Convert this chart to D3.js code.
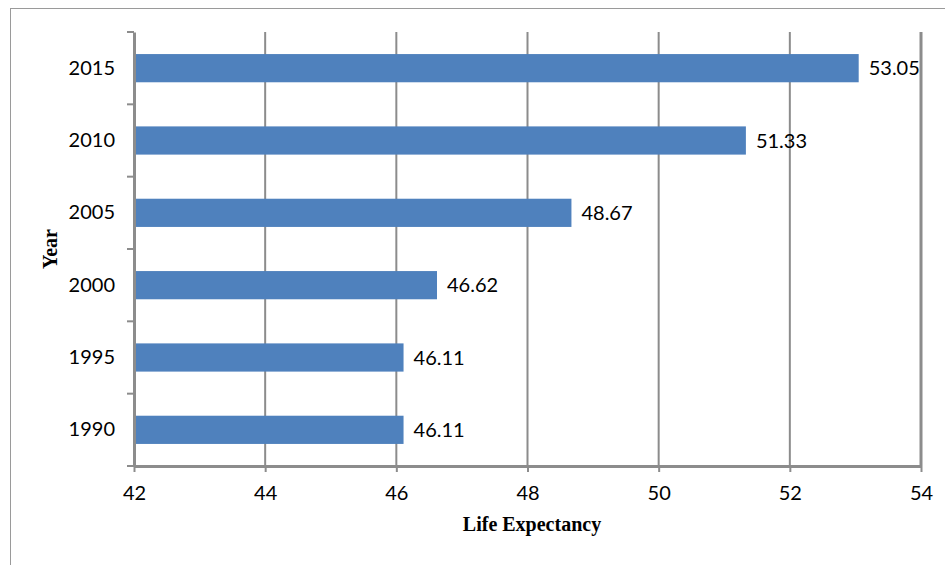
<!DOCTYPE html>
<html>
<head>
<meta charset="utf-8">
<script src="https://cdn.jsdelivr.net/npm/d3@7"></script>
<style>
    body { margin: 0; background: #fff; }
    svg { display: block; }
    .tick-label { font-family: Lato, "Open Sans", sans-serif; font-size: 20px; fill: #000; }
    .axis-title { font-family: "Liberation Serif", serif; font-size: 20px; font-weight: bold; fill: #000; }
    .bar-label { font-family: Lato, "Open Sans", sans-serif; font-size: 20px; fill: #000; }
</style>
</head>
<body>
<svg width="945" height="565"></svg>
<script>
// data
var years = ["1990", "1995", "2000", "2005", "2010", "2015"];
var lifeExp = [46.11, 46.11, 46.62, 48.67, 51.33, 53.05];
var xTicks = [42, 44, 46, 48, 50, 52, 54];

var svg = d3.select("svg");
var grey = "#8c8c8c";

var plotLeft = 134, plotRight = 921, plotTop = 32, plotBottom = 466;

// outer chart border (top and left visible)
svg.append("line")
    .attr("x1", 10).attr("x2", 945)
    .attr("y1", 8.5).attr("y2", 8.5)
    .attr("stroke", "#9a9a9a").attr("stroke-width", 1);
svg.append("line")
    .attr("x1", 10.5).attr("x2", 10.5)
    .attr("y1", 8).attr("y2", 565)
    .attr("stroke", "#9a9a9a").attr("stroke-width", 1);

var x = d3.scaleLinear().domain([42, 54]).range([plotLeft, plotRight]);
var cats = years.slice().reverse();
var y = d3.scaleBand().domain(cats).range([plotTop, plotBottom]).paddingInner(0.61).paddingOuter(0.305);
var yb = d3.scaleBand().domain(cats).range([plotTop, plotBottom]);

var g = svg.append("g");

// vertical gridlines
g.selectAll("line.grid")
    .data(xTicks.slice(1))
    .enter().append("line")
    .attr("class", "grid")
    .attr("x1", function(d) { return x(d); })
    .attr("x2", function(d) { return x(d); })
    .attr("y1", plotTop)
    .attr("y2", plotBottom)
    .attr("stroke", grey)
    .attr("stroke-width", function(d) { return d == 54 ? 3 : 2; });

// bars
g.selectAll("rect.bar")
    .data(years)
    .enter().append("rect")
    .attr("class", "bar")
    .attr("x", x(42))
    .attr("y", function(d) { return y(d); })
    .attr("width", function(d, i) { return x(lifeExp[i]) - x(42); })
    .attr("height", y.bandwidth())
    .attr("fill", "#4f81bd");

// value labels
g.selectAll("text.bar-label")
    .data(years)
    .enter().append("text")
    .attr("class", "bar-label")
    .attr("x", function(d, i) { return x(lifeExp[i]) + 10; })
    .attr("y", function(d) { return y(d) + y.bandwidth() / 2; })
    .attr("dy", "0.36em")
    .text(function(d, i) { return lifeExp[i].toFixed(2); });

// x axis
var xAxis = g.append("g").attr("transform", "translate(0," + plotBottom + ")")
    .call(d3.axisBottom(x).tickValues(xTicks).tickSize(6).tickSizeOuter(0).tickPadding(14));
xAxis.select(".domain").attr("stroke", grey).attr("stroke-width", 3);
xAxis.selectAll(".tick line").attr("stroke", grey).attr("stroke-width", 2);
xAxis.selectAll(".tick text").attr("class", "tick-label").attr("font-family", null).attr("font-size", null);

// y axis: ticks between categories
var yAxis = g.append("g").attr("transform", "translate(" + plotLeft + ",0)")
    .call(d3.axisLeft(yb).tickSize(0).tickSizeOuter(0).tickPadding(19));
yAxis.select(".domain").attr("stroke", grey).attr("stroke-width", 3);
yAxis.selectAll(".tick text").attr("class", "tick-label").attr("font-family", null).attr("font-size", null);
var edges = cats.map(function(d) { return yb(d); }).concat([plotBottom]);
yAxis.selectAll("line.sep")
    .data(edges)
    .enter().append("line")
    .attr("class", "sep")
    .attr("x1", -7).attr("x2", 0)
    .attr("y1", function(d) { return d; })
    .attr("y2", function(d) { return d; })
    .attr("stroke", grey).attr("stroke-width", 2);

// axis titles
svg.append("text")
    .attr("class", "axis-title")
    .attr("x", 532)
    .attr("y", 531)
    .attr("text-anchor", "middle")
    .text("Life Expectancy");
svg.append("text")
    .attr("class", "axis-title")
    .attr("transform", "translate(57," + (plotTop + plotBottom) / 2 + ") rotate(-90)")
    .attr("text-anchor", "middle")
    .text("Year");
</script>
</body>
</html>
